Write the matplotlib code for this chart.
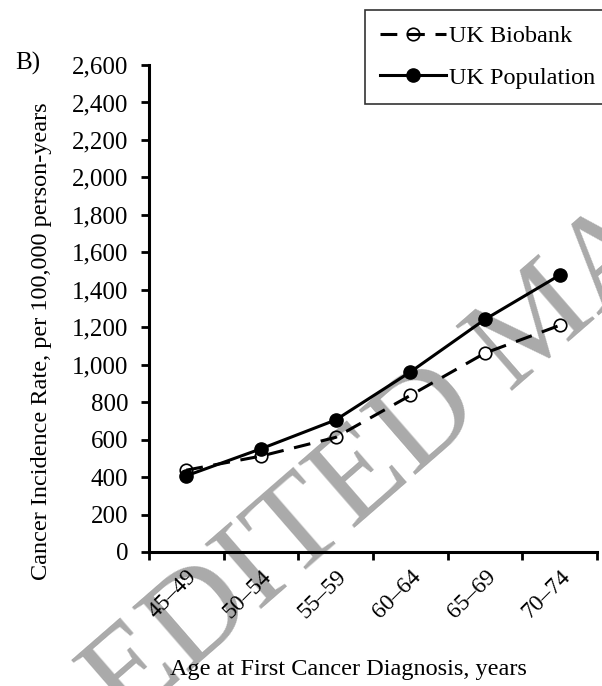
import matplotlib
matplotlib.use('Agg')
import matplotlib.pyplot as plt
import numpy as np

plt.rcParams['font.family'] = 'Liberation Serif'

age_groups = ['45\u201349', '50\u201354', '55\u201359', '60\u201364', '65\u201369', '70\u201374']
uk_biobank = [437, 512, 612, 836, 1062, 1210]
uk_population = [407, 551, 705, 961, 1242, 1478]
y_ticks = list(range(0, 2601, 200))

fig = plt.figure(figsize=(6.02, 6.86), dpi=100)
ax = fig.add_axes([149/602, 134/686, 448/602, 487/686])
ax.set_zorder(1)
ax.set_facecolor('none')

# watermark behind everything
fig.text(125/602, -0.06, 'EDITED MANUSCRIPT', fontsize=95, color='#aaaaaa',
         rotation=41, ha='left', va='baseline', rotation_mode='anchor', zorder=0)

x = np.arange(len(age_groups)) + 0.5
ax.plot(x, uk_biobank, color='black', lw=2.2, ls=(0, (5.5, 3.5)), marker='o',
        ms=9, mfc='none', mec='black', mew=1.2, label='UK Biobank', zorder=3)
ax.plot(x, uk_population, color='black', lw=2.2, marker='o', ms=9.5,
        mfc='black', mec='black', label='UK Population', zorder=4)

ax.set_xlim(0, len(age_groups))
ax.set_ylim(0, 2600)
ax.set_yticks(y_ticks)
ax.set_yticklabels(['{:,}'.format(v) for v in y_ticks])
ax.set_xticks(np.arange(len(age_groups) + 1))
ax.set_xticklabels([])
ax.set_xticks(x, minor=True)
ax.set_xticklabels(age_groups, minor=True, rotation=45, ha='right',
                   rotation_mode='anchor')
ax.tick_params(axis='x', which='minor', length=0, pad=10, labelsize=17)
ax.tick_params(axis='both', which='major', direction='out', length=5.5, width=2,
               labelsize=18)
ax.tick_params(axis='y', pad=9.5)

for s in ['top', 'right']:
    ax.spines[s].set_visible(False)
for s in ['left', 'bottom']:
    ax.spines[s].set_linewidth(2.2)

ax.set_ylabel('Cancer Incidence Rate, per 100,000 person-years', fontsize=17.5)
ax.yaxis.set_label_coords((42 - 149) / 448, (552 - 341) / 487)
ax.yaxis.label.set_va('center')
ax.set_xlabel('Age at First Cancer Diagnosis, years', fontsize=17.5)
ax.xaxis.set_label_coords((348 - 149) / 448, (552 - 670) / 487)
ax.xaxis.label.set_va('center')

fig.text(15/602, 1 - 63/686, 'B)', fontsize=18, va='center', ha='left')

leg = fig.legend(loc='upper left', bbox_to_anchor=(365/602, 1 - 10/686),
                 fontsize=17.5, frameon=True, fancybox=False, edgecolor='black',
                 handlelength=2.7, labelspacing=0.8, borderpad=0.62,
                 handletextpad=0.15, borderaxespad=0)
leg.get_frame().set_linewidth(1.2)

fig.savefig('out.png', dpi=100)
